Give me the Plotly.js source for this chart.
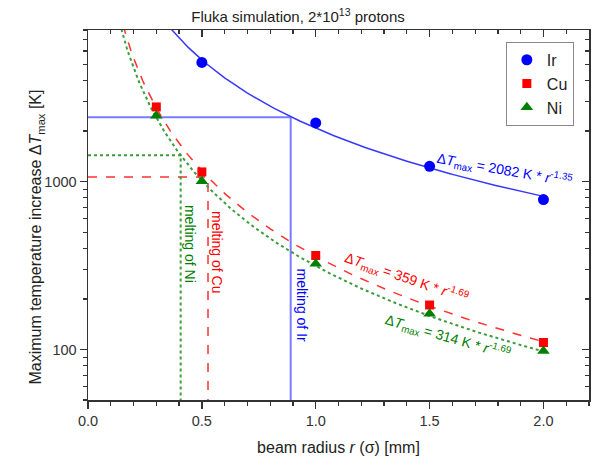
<!DOCTYPE html>
<html><head><meta charset="utf-8">
<script src="https://cdn.plot.ly/plotly-3.0.1.min.js"></script>
<style>html,body{margin:0;padding:0;background:#fff}</style>
</head><body><div id="chart" style="width:596px;height:469px"></div>
<script>
// ---- data ----
const cuNiRadius = [0.3, 0.5, 1.0, 1.5, 2.0];
const irRadius = [0.5, 1.0, 1.5, 2.0];
const irValues = [5130, 2236, 1233, 781];
const cuValues = [2785, 1142, 363, 184, 110];
const niValues = [2470, 1004, 324, 163, 98];
// fit parameters as printed on the chart: dT = A * r^B
const fitCoef = [2082, 359, 314];
const fitExp = [-1.35, -1.69, -1.69];
const fitStart = 0.1, fitEnd = 2.0;
// melting lines (dT to melting, radius where fit reaches it)
const meltDeltaT = [2420, 1065, 1435];
const meltRadius = [0.89, 0.527, 0.407];
const meltLabels = ['melting of Ir', 'melting of Cu', 'melting of Ni'];
const xTickVals = [0, 0.5, 1.0, 1.5, 2.0];
const yTickVals = [100, 1000];
const yTickText = ['100', '1000'];
const yMinorVals = [50,60,70,80,90,200,300,400,500,600,700,800,900,2000,3000,4000,5000,6000,7000,8000];
const xRange = [0, 2.2];
const yRange = [50, 8000];

const FONT = 'Liberation Sans, Arial, sans-serif';
const colBlue = '#0000ff', colRed = '#ff0000', colGreen = '#008000';
const lineBlue = '#3838ff', lineRed = '#ff3030', lineGreen = '#3a9d3a';
const meltBlue = '#7b7bff';

function fitCurve(i) {
  const xs = [], ys = [];
  for (let k = 0; k <= Math.round((fitEnd - fitStart) / 0.01); k++) {
    const r = fitStart + k * 0.01;
    xs.push(r); ys.push(fitCoef[i] * Math.pow(r, fitExp[i]));
  }
  return {x: xs, y: ys};
}

const traces = [];
const meltStyles = [
  {color: meltBlue, width: 2, dash: 'solid'},
  {color: lineRed, width: 1.5, dash: 'dash'},
  {color: lineGreen, width: 2, dash: 'dot'}
];
for (let i = 0; i < 3; i++) {
  traces.push({x: [0, meltRadius[i], meltRadius[i]], y: [meltDeltaT[i], meltDeltaT[i], yRange[0]],
    mode: 'lines', line: meltStyles[i], showlegend: false, hoverinfo: 'skip'});
}
const fitStyles = [
  {color: lineBlue, width: 1.5, dash: 'solid'},
  {color: lineRed, width: 1.5, dash: 'dash'},
  {color: lineGreen, width: 2, dash: 'dot'}
];
for (let i = 0; i < 3; i++) {
  const c = fitCurve(i);
  traces.push({x: c.x, y: c.y, mode: 'lines', line: fitStyles[i], showlegend: false, hoverinfo: 'skip'});
}
traces.push({x: irRadius, y: irValues, mode: 'markers', name: 'Ir',
  marker: {symbol: 'circle', size: 11, color: colBlue}});
traces.push({x: cuNiRadius, y: cuValues, mode: 'markers', name: 'Cu',
  marker: {symbol: 'square', size: 9, color: colRed}});
traces.push({x: cuNiRadius, y: niValues, mode: 'markers', name: 'Ni',
  marker: {symbol: 'triangle-up', size: 11, color: colGreen}});
// mirror axes (top / right) with inside ticks
traces.push({x: [xRange[0]], y: [yRange[0]], xaxis: 'x2', yaxis: 'y2', showlegend: false, hoverinfo: 'skip',
  mode: 'markers', marker: {size: 1, opacity: 0}});

const axLine = '#333333';
const annots = [
  {x: 0.94, y: Math.log10(185), text: meltLabels[0], textangle: 90, font: {color: colBlue, size: 14}},
  {x: 0.567, y: Math.log10(380), text: meltLabels[1], textangle: 90, font: {color: colRed, size: 14}},
  {x: 0.448, y: Math.log10(425), text: meltLabels[2], textangle: 90, font: {color: colGreen, size: 14}},
  {x: 1.83, y: Math.log10(1175), text: 'Δ<i>T</i><sub>max</sub> = ' + fitCoef[0] + ' K * <i>r</i><sup>' + fitExp[0] + '</sup>', textangle: 10, font: {color: colBlue, size: 14}},
  {x: 1.40, y: Math.log10(268), text: 'Δ<i>T</i><sub>max</sub> = ' + fitCoef[1] + ' K * <i>r</i><sup>' + fitExp[1] + '</sup>', textangle: 19, font: {color: colRed, size: 14}},
  {x: 1.58, y: Math.log10(118), text: 'Δ<i>T</i><sub>max</sub> = ' + fitCoef[2] + ' K * <i>r</i><sup>' + fitExp[2] + '</sup>', textangle: 16, font: {color: colGreen, size: 14}}
].map(a => Object.assign({xref: 'x', yref: 'y', showarrow: false}, a));
annots.push({xref: 'paper', yref: 'paper', x: -0.126, y: 0.44, showarrow: false, textangle: -90,
  text: 'Maximum temperature increase Δ<i>T</i><sub>max</sub> [K]', font: {size: 16, color: '#222'}});

const layout = {
  width: 596, height: 469,
  margin: {l: 88, r: 7, t: 30, b: 69},
  paper_bgcolor: '#fff', plot_bgcolor: '#fff',
  font: {family: FONT, color: '#333', size: 14},
  title: {text: 'Fluka simulation, 2*10<sup>13</sup> protons', font: {size: 15, color: '#222'}, y: 0.975, yanchor: 'top'},
  showlegend: true,
  legend: {x: 0.834, y: 0.968, xanchor: 'left', yanchor: 'top', bordercolor: '#888', borderwidth: 1,
    font: {size: 16, color: '#222'}, bgcolor: '#fff'},
  xaxis: {range: xRange, showline: true, linecolor: axLine, linewidth: 1.5, zeroline: false, showgrid: false,
    ticks: 'outside', ticklen: 7, tickwidth: 1.5, tickcolor: axLine, tickvals: xTickVals, tickformat: '.1f',
    tickfont: {size: 14.5},
    minor: {dtick: 0.1, tick0: 0, ticks: 'outside', ticklen: 4, tickwidth: 1.2, tickcolor: axLine, showgrid: false},
    title: {text: 'beam radius <i>r</i> (σ) [mm]', font: {size: 16, color: '#222'}, standoff: 14}},
  yaxis: {type: 'log', range: yRange.map(Math.log10), showline: true, linecolor: axLine, linewidth: 1.5,
    zeroline: false, showgrid: false, ticks: 'outside', ticklen: 7, tickwidth: 1.5, tickcolor: axLine,
    tickvals: yTickVals, ticktext: yTickText, tickfont: {size: 14.5},
    minor: {tickmode: 'array', tickvals: yMinorVals,
      ticks: 'outside', ticklen: 4, tickwidth: 1.2, tickcolor: axLine, showgrid: false}},
  xaxis2: {overlaying: 'x', side: 'top', range: xRange, showline: true, linecolor: axLine, linewidth: 1.5,
    zeroline: false, showgrid: false, showticklabels: false, ticks: 'inside', ticklen: 7, tickwidth: 1.5, tickcolor: axLine,
    tickvals: xTickVals,
    minor: {dtick: 0.1, tick0: 0, ticks: 'inside', ticklen: 4, tickwidth: 1.2, tickcolor: axLine, showgrid: false}},
  yaxis2: {overlaying: 'y', side: 'right', type: 'log', range: yRange.map(Math.log10), showline: true, linecolor: axLine,
    linewidth: 1.5, zeroline: false, showgrid: false, showticklabels: false, ticks: 'inside', ticklen: 7, tickwidth: 1.5,
    tickcolor: axLine, tickvals: yTickVals,
    minor: {tickmode: 'array', tickvals: yMinorVals,
      ticks: 'inside', ticklen: 4, tickwidth: 1.2, tickcolor: axLine, showgrid: false}},
  annotations: annots
};

Plotly.newPlot('chart', traces, layout, {staticPlot: true, displayModeBar: false});
</script></body></html>
